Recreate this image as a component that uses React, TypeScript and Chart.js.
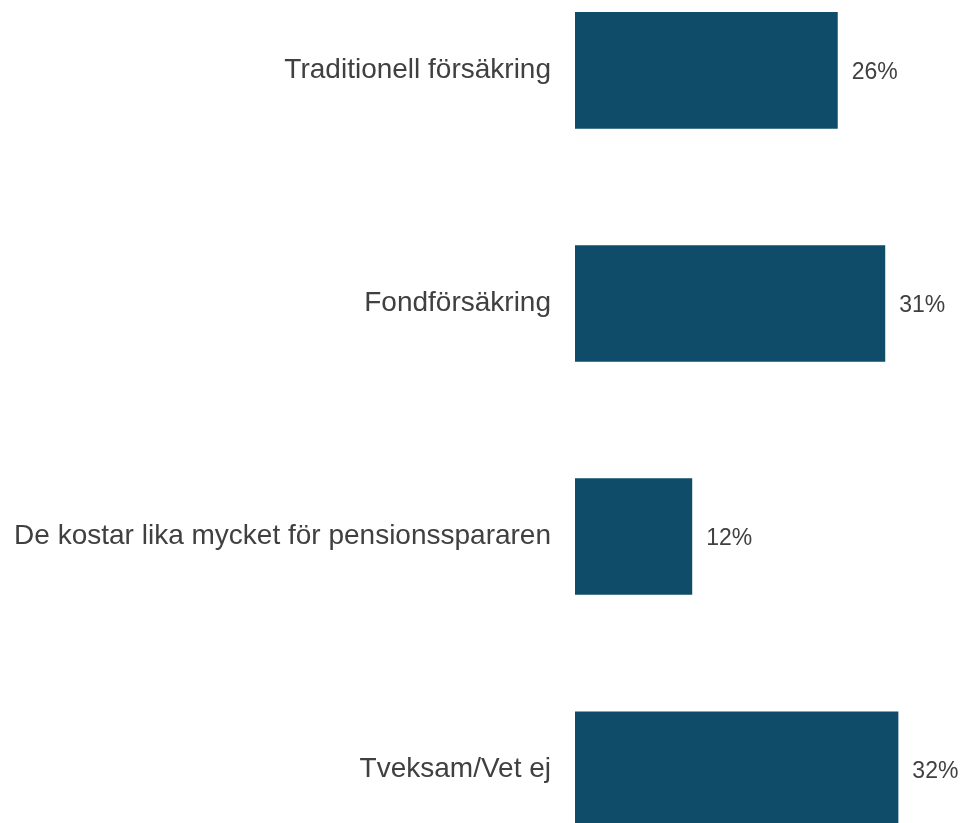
import React, { useEffect, useRef } from "react";
import { Chart, registerables } from "chart.js";

Chart.register(...registerables);

const categories = [
  "Traditionell försäkring",
  "Fondförsäkring",
  "De kostar lika mycket för pensionsspararen",
  "Tveksam/Vet ej",
];
const values = [26.0, 30.7, 11.6, 32.0];
const valueLabels = ["26%", "31%", "12%", "32%"];

const BAR_COLOR = "#0E4C69";
const TEXT_COLOR = "#404040";
const FONT = "Arial, 'Liberation Sans', sans-serif";

const valueLabelPlugin = {
  id: "valueLabels",
  afterDatasetsDraw(chart: any) {
    const ctx = chart.ctx;
    const meta = chart.getDatasetMeta(0);
    ctx.save();
    ctx.fillStyle = TEXT_COLOR;
    ctx.font = `23px ${FONT}`;
    ctx.textAlign = "left";
    ctx.textBaseline = "middle";
    meta.data.forEach((bar: any, i: number) => {
      ctx.fillText(valueLabels[i], bar.x + 14, bar.y + 2);
    });
    ctx.restore();
  },
};

export default function App() {
  const ref = useRef<HTMLCanvasElement | null>(null);
  useEffect(() => {
    if (!ref.current) return;
    const chart = new Chart(ref.current, {
      type: "bar",
      data: {
        labels: categories,
        datasets: [
          {
            data: values,
            backgroundColor: BAR_COLOR,
            borderWidth: 0,
            barPercentage: 0.5,
            categoryPercentage: 1,
          },
        ],
      },
      options: {
        indexAxis: "y",
        animation: false,
        responsive: false,
        maintainAspectRatio: false,
        layout: { padding: 0 },
        plugins: {
          legend: { display: false },
          tooltip: { enabled: false },
        },
        scales: {
          x: {
            display: false,
            min: 0,
            max: 38,
          },
          y: {
            grid: { display: false, drawTicks: false },
            border: { display: false },
            ticks: {
              color: TEXT_COLOR,
              font: { family: FONT, size: 28 },
              padding: 24,
            },
            afterFit(scale: any) {
              scale.width = 575;
            },
          },
        },
      },
      plugins: [valueLabelPlugin],
    });
    return () => chart.destroy();
  }, []);
  return (
    <div
      style={{
        position: "fixed",
        left: 0,
        top: 0,
        width: 963,
        height: 823,
        overflow: "hidden",
        background: "#ffffff",
      }}
    >
      <canvas
        ref={ref}
        width={959}
        height={1014}
        style={{ position: "absolute", left: 0, top: -87, width: 959, height: 1014 }}
      />
    </div>
  );
}
